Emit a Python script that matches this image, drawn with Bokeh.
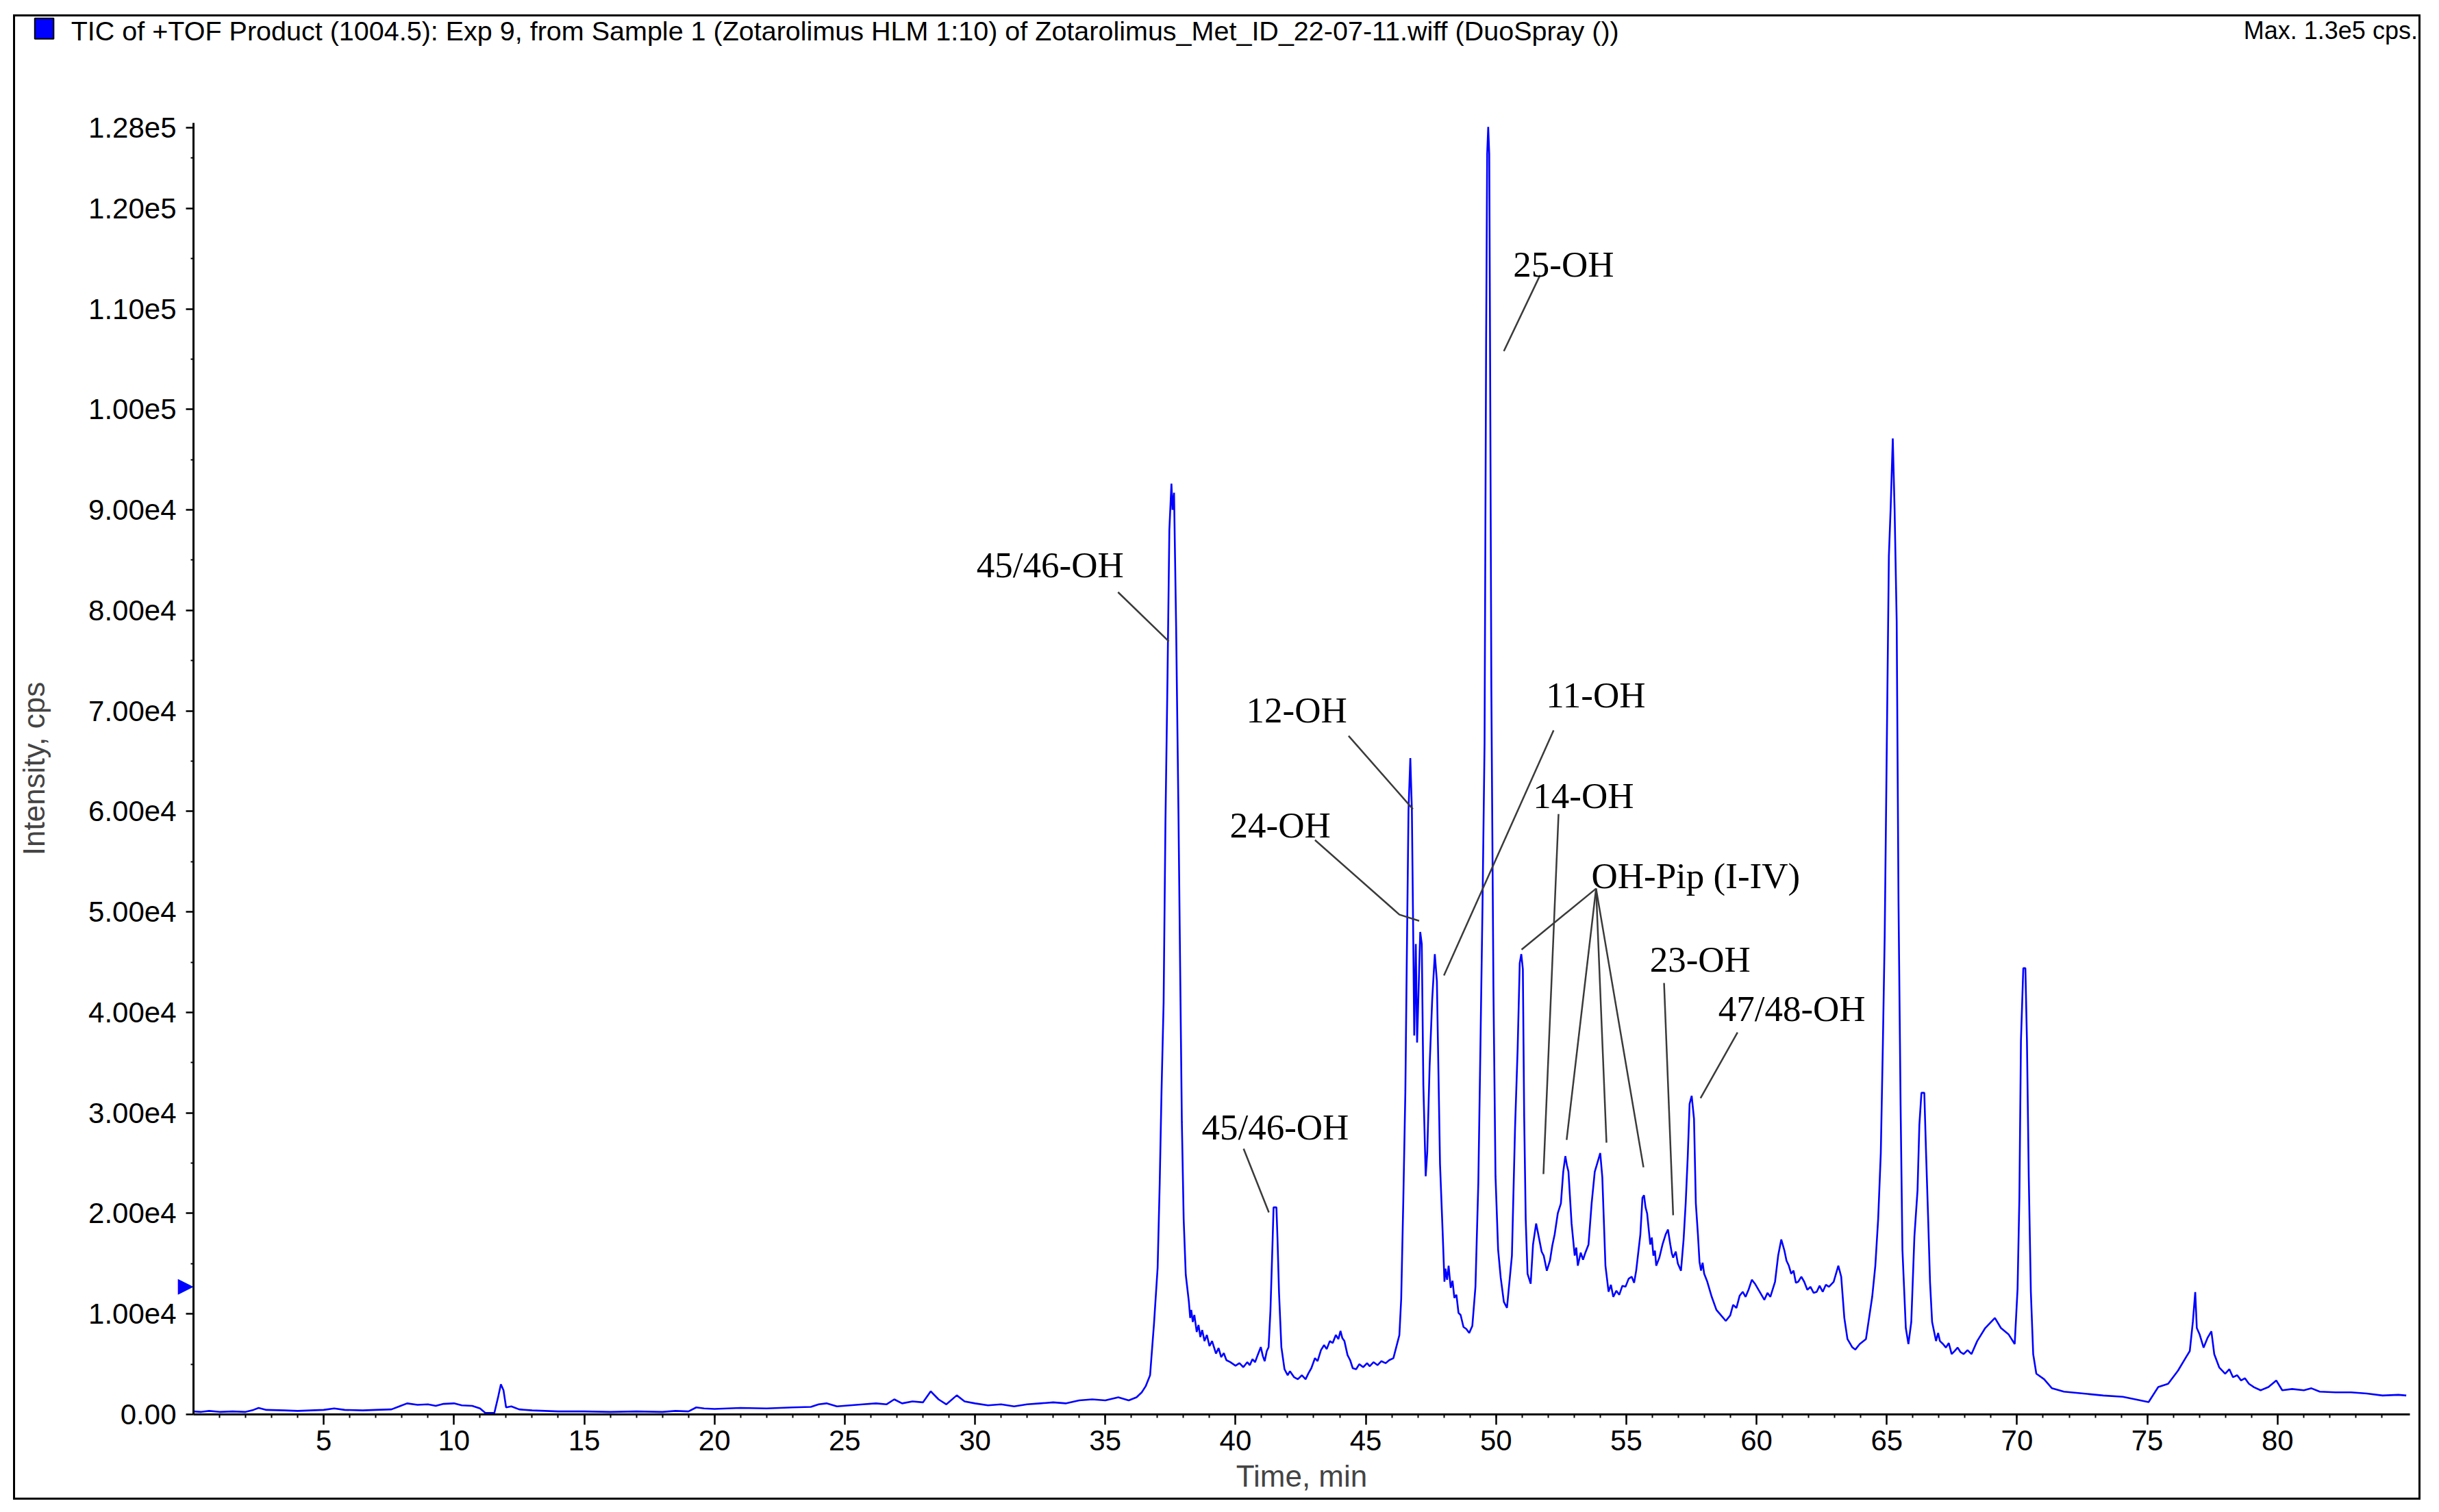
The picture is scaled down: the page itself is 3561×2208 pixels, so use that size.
from bokeh.plotting import figure
from bokeh.models import Range1d, FixedTicker, Label
from bokeh.core.properties import value
from bokeh.embed import file_html
from bokeh.resources import INLINE

# ---- TIC trace (time in min, intensity in cps) ----
trace_0_36 = [
    (0.0, 300), (0.3, 250), (0.6, 350), (1.0, 250), (1.5, 300), (2.0, 250), (2.3, 450), (2.5, 650),
    (2.8, 450), (3.5, 400), (4.0, 350), (4.5, 400), (5.0, 450), (5.4, 600), (5.8, 450), (6.5, 400),
    (7.0, 450), (7.6, 500), (7.9, 800), (8.2, 1100), (8.6, 950), (9.0, 1000), (9.3, 850), (9.6, 1050),
    (10.0, 1100), (10.3, 900), (10.7, 850), (11.0, 600), (11.2, 150), (11.55, 150), (11.7, 1800),
    (11.8, 3000), (11.9, 2400), (12.0, 700), (12.2, 800), (12.5, 500), (13.0, 400), (13.5, 350),
    (14.0, 300), (15.0, 300), (16.0, 250), (17.0, 300), (18.0, 250), (18.5, 350), (19.0, 300),
    (19.3, 700), (19.6, 600), (20.0, 550), (21.0, 650), (22.0, 600), (23.0, 700), (23.7, 750),
    (24.0, 1000), (24.3, 1100), (24.7, 800), (25.2, 900), (25.7, 1000), (26.2, 1100), (26.6, 1000),
    (26.9, 1500), (27.2, 1100), (27.6, 1300), (28.0, 1200), (28.3, 2300), (28.6, 1500), (28.9, 1000),
    (29.3, 1900), (29.6, 1300), (30.0, 1100), (30.5, 900), (31.0, 1000), (31.5, 800), (32.0, 1000),
    (32.5, 1100), (33.0, 1200), (33.5, 1100), (34.0, 1400), (34.5, 1500), (35.0, 1400), (35.5, 1700),
    (35.9, 1400), (36.2, 1700), (36.4, 2200), (36.55, 2800),
]
trace_36_50 = [
    (36.72, 3900), (36.87, 9000), (37.01, 14600), (37.09, 23000), (37.16, 32200), (37.24, 41000),
    (37.31, 58900), (37.39, 73500), (37.46, 88000), (37.54, 92600), (37.58, 90000), (37.64, 91700),
    (37.72, 78400), (37.81, 59800), (37.88, 43100), (37.94, 29100), (38.01, 19400), (38.09, 13900),
    (38.21, 11200), (38.26, 9600), (38.30, 10400), (38.36, 9200), (38.42, 9900), (38.51, 8200),
    (38.58, 8900), (38.65, 7700), (38.72, 8400), (38.81, 7300), (38.9, 7900), (39.0, 6800),
    (39.1, 7300), (39.25, 6050), (39.35, 6600), (39.45, 5700), (39.55, 6100), (39.65, 5400),
    (39.8, 5200), (40.0, 4850), (40.15, 5100), (40.3, 4700), (40.45, 5200), (40.55, 4900),
    (40.65, 5500), (40.75, 5200), (40.85, 5900), (40.97, 6700), (41.05, 5800), (41.12, 5300),
    (41.2, 6300), (41.27, 6700), (41.34, 10300), (41.42, 17000), (41.46, 20600), (41.57, 20600),
    (41.61, 17600), (41.67, 12100), (41.76, 6700), (41.88, 4500), (42.0, 3900), (42.09, 4300),
    (42.25, 3700), (42.39, 3500), (42.55, 3900), (42.69, 3500), (42.8, 4100), (42.91, 4600),
    (43.05, 5600), (43.15, 5300), (43.28, 6400), (43.4, 6900), (43.5, 6500), (43.62, 7300),
    (43.73, 7100), (43.85, 7900), (43.95, 7500), (44.03, 8300), (44.1, 7600), (44.18, 7300),
    (44.3, 5900), (44.4, 5400), (44.5, 4600), (44.63, 4500), (44.75, 5000), (44.9, 4700),
    (45.05, 5100), (45.15, 4800), (45.3, 5200), (45.45, 4900), (45.6, 5300), (45.76, 5100),
    (45.9, 5400), (46.06, 5600), (46.29, 7900), (46.36, 11500), (46.44, 21200), (46.52, 32200),
    (46.56, 41900), (46.64, 60100), (46.71, 65300), (46.77, 60100), (46.82, 48000), (46.86, 37700),
    (46.92, 46800), (46.97, 37000), (47.03, 42500), (47.09, 48000), (47.15, 46800), (47.21, 32800),
    (47.30, 23700), (47.36, 26100), (47.45, 34600), (47.55, 41300), (47.65, 45800), (47.73, 43100),
    (47.85, 24900), (47.95, 18200), (48.02, 13200), (48.06, 14500), (48.12, 13400), (48.18, 14800),
    (48.26, 12600), (48.33, 13300), (48.40, 11600), (48.48, 11900), (48.56, 10100), (48.64, 9900),
    (48.75, 8700), (48.86, 8500), (48.97, 8100), (49.09, 8800), (49.21, 12700), (49.32, 23000),
    (49.40, 36400), (49.48, 50400), (49.56, 66800), (49.62, 107000), (49.66, 125400), (49.70, 128100),
    (49.74, 125400), (49.77, 107000), (49.82, 72300), (49.90, 42500), (49.98, 23700),
]
trace_50_65 = [
    (50.08, 16400), (50.18, 13600), (50.30, 11200), (50.42, 10600), (50.61, 15800), (50.73, 28500),
    (50.83, 36400), (50.91, 44900), (50.97, 45800), (51.03, 44300), (51.08, 29700), (51.14, 19400),
    (51.21, 14000), (51.33, 13000), (51.42, 16900), (51.54, 19000), (51.66, 17400), (51.75, 16200),
    (51.83, 15800), (51.95, 14300), (52.07, 15300), (52.16, 16800), (52.25, 17900), (52.37, 20000),
    (52.49, 21000), (52.58, 24150), (52.66, 25700), (52.72, 24800), (52.78, 24150), (52.90, 19000),
    (53.02, 15800), (53.08, 16600), (53.14, 14800), (53.25, 16100), (53.34, 15400), (53.43, 16100),
    (53.55, 16900), (53.67, 21000), (53.79, 24150), (53.91, 25200), (54.00, 26000), (54.08, 23600),
    (54.20, 14800), (54.32, 12200), (54.41, 12900), (54.50, 11700), (54.62, 12300), (54.73, 11900),
    (54.85, 12800), (54.97, 12700), (55.09, 13500), (55.21, 13700), (55.30, 13100), (55.38, 14300),
    (55.54, 17900), (55.62, 21550), (55.68, 21800), (55.74, 20600), (55.80, 20000), (55.92, 16900),
    (55.98, 17600), (56.04, 15800), (56.10, 16300), (56.15, 14800), (56.27, 15600), (56.39, 16900),
    (56.51, 17900), (56.60, 18400), (56.69, 16900), (56.75, 16000), (56.80, 15600), (56.90, 16200),
    (56.98, 15000), (57.10, 14300), (57.20, 17400), (57.28, 21000), (57.36, 25700), (57.43, 30900),
    (57.51, 31700), (57.60, 29400), (57.67, 21000), (57.75, 17900), (57.81, 15200), (57.87, 14300),
    (57.93, 15100), (57.99, 14000), (58.11, 13200), (58.28, 11700), (58.46, 10400), (58.64, 9850),
    (58.82, 9300), (58.99, 9850), (59.10, 10900), (59.23, 10600), (59.35, 11800), (59.47, 12200),
    (59.58, 11700), (59.70, 12450), (59.82, 13400), (59.94, 13000), (60.12, 12200), (60.30, 11400),
    (60.42, 12100), (60.53, 11700), (60.71, 13200), (60.83, 15800), (60.95, 17400), (61.07, 16300),
    (61.15, 15300), (61.24, 14800), (61.33, 14000), (61.42, 14300), (61.51, 13100), (61.60, 13200),
    (61.72, 13700), (61.83, 13200), (61.95, 12400), (62.07, 12700), (62.19, 12100), (62.31, 12200),
    (62.42, 12800), (62.54, 12200), (62.66, 12900), (62.78, 12700), (62.96, 13200), (63.14, 14800),
    (63.25, 13700), (63.37, 9600), (63.49, 7500), (63.67, 6700), (63.79, 6450), (63.96, 7000),
    (64.20, 7500), (64.32, 9600), (64.44, 11700), (64.56, 14800), (64.67, 19500), (64.77, 26000),
    (64.85, 36900), (64.92, 47650),
]
trace_65_85 = [
    (65.00, 66500), (65.08, 85400), (65.15, 90300), (65.23, 97100), (65.30, 90000), (65.38, 78900),
    (65.45, 50900), (65.53, 30700), (65.60, 16400), (65.73, 8600), (65.83, 7000), (65.94, 9200),
    (66.06, 17700), (66.18, 22300), (66.25, 28800), (66.33, 32000), (66.44, 32000), (66.51, 25800),
    (66.59, 19300), (66.66, 13150), (66.74, 9200), (66.89, 7300), (66.97, 8100), (67.04, 7300),
    (67.16, 7000), (67.27, 6650), (67.38, 7100), (67.49, 6000), (67.60, 6300), (67.72, 6650),
    (67.83, 6200), (67.95, 6000), (68.10, 6400), (68.25, 6000), (68.47, 7300), (68.78, 8600),
    (69.15, 9600), (69.38, 8600), (69.68, 7950), (69.91, 7000), (70.02, 12500), (70.09, 21600),
    (70.15, 37200), (70.24, 44400), (70.32, 44400), (70.38, 37200), (70.45, 23600), (70.53, 12200),
    (70.62, 6000), (70.74, 4050), (71.04, 3500), (71.34, 2600), (71.80, 2270), (72.55, 2080),
    (73.31, 1880), (74.06, 1750), (74.67, 1430), (75.05, 1230), (75.42, 2730), (75.80, 3050),
    (76.18, 4360), (76.48, 5660), (76.63, 6300), (76.75, 9240), (76.84, 12170), (76.90, 8600),
    (77.01, 7950), (77.16, 6650), (77.31, 7600), (77.46, 8270), (77.57, 6000), (77.76, 4680),
    (77.99, 4050), (78.15, 4500), (78.29, 3700), (78.45, 3900), (78.60, 3380), (78.75, 3600),
    (78.90, 3050), (79.10, 2700), (79.35, 2400), (79.65, 2730), (79.95, 3380), (80.18, 2400),
    (80.56, 2530), (81.01, 2400), (81.30, 2600), (81.62, 2270), (82.22, 2200), (82.82, 2200),
    (83.43, 2080), (84.03, 1880), (84.64, 1950), (84.94, 1880),
]

# ---- peak annotations ----
label_text = ["25-OH", "45/46-OH", "12-OH", "24-OH", "45/46-OH", "11-OH", "14-OH",
              "OH-Pip (I-IV)", "23-OH", "47/48-OH"]
label_x = [50.66, 30.06, 40.41, 39.78, 38.70, 51.92, 51.42, 53.66, 55.90, 58.53]
label_y = [114440, 84540, 70100, 58650, 28610, 71590, 61580, 53610, 45300, 40390]

leader_xs = [[51.69, 50.30], [35.49, 37.44], [44.34, 46.81], [43.05, 46.29, 47.05],
             [40.31, 41.28], [52.21, 48.00], [52.40, 51.82], [53.84, 50.98],
             [53.84, 52.71], [53.84, 54.24], [53.84, 55.66], [56.45, 56.80], [59.27, 57.85]]
leader_ys = [[113350, 105790], [81810, 76910], [67510, 60220], [57150, 49730, 49110],
             [26430, 20100], [68060, 43670], [59740, 23910], [52320, 46250],
             [52320, 27320], [52320, 27040], [52320, 24590], [42920, 19820], [38010, 31470]]

# ---- axes ----
x_major_ticks = [5, 10, 15, 20, 25, 30, 35, 40, 45, 50, 55, 60, 65, 70, 75, 80]
x_minor_ticks = list(range(1, 85))
y_major_ticks = [0, 10000, 20000, 30000, 40000, 50000, 60000, 70000, 80000, 90000,
                 100000, 110000, 120000, 128000]
y_tick_labels = ["0.00", "1.00e4", "2.00e4", "3.00e4", "4.00e4", "5.00e4", "6.00e4", "7.00e4",
                 "8.00e4", "9.00e4", "1.00e5", "1.10e5", "1.20e5", "1.28e5"]
y_minor_ticks = [5000 + 10000 * i for i in range(13)]

header_text = ("TIC of +TOF Product (1004.5): Exp 9, from Sample 1 (Zotarolimus HLM 1:10) "
               "of Zotarolimus_Met_ID_22-07-11.wiff (DuoSpray ())")
max_text = "Max. 1.3e5 cps."

t_vals, i_vals = [], []
for seg in (trace_0_36, trace_36_50, trace_50_65, trace_65_85):
    for t, v in seg:
        t_vals.append(t)
        i_vals.append(v)

SANS = "Liberation Sans"
SERIF = "Liberation Serif"

p = figure(width=3515, height=2169,
           x_range=Range1d(0, 85.08), y_range=Range1d(0, 128500),
           output_backend="svg", toolbar_location=None,
           min_border_left=258, min_border_right=19, min_border_top=155, min_border_bottom=128,
           background_fill_color="white", border_fill_color="white", outline_line_color=None,
           styles={"margin-left": "19px", "margin-top": "21px", "border": "3px solid black"})
p.grid.visible = False

p.line(t_vals, i_vals, line_color="#0000FF", line_width=2.6)

p.multi_line(xs=leader_xs, ys=leader_ys, line_color="#3a3a3a", line_width=2.5)
p.text(x=label_x, y=label_y, text=label_text, text_font=value(SERIF), text_font_size="53px",
       text_baseline="middle", text_align="left", text_color="black")

# x axis
xa = p.xaxis[0]
xa.ticker = FixedTicker(ticks=x_major_ticks, minor_ticks=x_minor_ticks)
xa.axis_label = "Time, min"
xa.axis_line_width = 3
xa.major_tick_line_width = 2.5
xa.minor_tick_line_width = 2
xa.major_tick_out = 15
xa.major_tick_in = 0
xa.minor_tick_out = 5
xa.minor_tick_in = 0
xa.major_label_standoff = 8
xa.major_label_text_font = SANS
xa.major_label_text_font_size = "42px"
xa.major_label_text_color = "black"
xa.axis_label_text_font = SANS
xa.axis_label_text_font_size = "44px"
xa.axis_label_text_font_style = "normal"
xa.axis_label_standoff = 10

# y axis
ya = p.yaxis[0]
ya.ticker = FixedTicker(ticks=y_major_ticks, minor_ticks=y_minor_ticks)
ya.major_label_overrides = {tk: lab for tk, lab in zip(y_major_ticks, y_tick_labels)}
ya.axis_label = "Intensity, cps"
ya.axis_line_width = 3
ya.major_tick_line_width = 2.5
ya.minor_tick_line_width = 2
ya.major_tick_out = 11
ya.major_tick_in = 0
ya.minor_tick_out = 4
ya.minor_tick_in = 0
ya.major_label_standoff = 14
ya.major_label_text_font = SANS
ya.major_label_text_font_size = "42px"
ya.major_label_text_color = "black"
ya.axis_label_text_font = SANS
ya.axis_label_text_font_size = "44px"
ya.axis_label_text_font_style = "normal"
ya.axis_label_standoff = 52

# header items live in the "above" side panel so they are not clipped to the frame
p.add_layout(Label(x=-4.70, y=137670, text=header_text, text_font=SANS, text_font_size="39.5px",
                   text_baseline="middle", text_align="left", text_color="black"), "above")
p.add_layout(Label(x=85.38, y=137670, text=max_text, text_font=SANS, text_font_size="36px",
                   text_baseline="middle", text_align="right", text_color="black"), "above")

square = Label(x=-5.73, y=137880, text=" ", text_font=SANS, text_font_size="20px",
               text_baseline="middle", text_align="center",
               background_fill_color="#0000FF", background_fill_alpha=1.0,
               border_line_color="black", border_line_width=2)
try:
    square.padding = dict(left=11, right=11, top=4, bottom=4)
except Exception:
    try:
        square.padding = 6
    except Exception:
        pass
p.add_layout(square, "above")

# marker triangle at the y axis
p.add_layout(Label(x=0.0, y=12870, text="\u25B6", text_font="DejaVu Sans", text_font_size="30px",
                   text_baseline="middle", text_align="right", text_color="#0000FF"), "above")

open("out.html", "w").write(file_html(p, INLINE))
